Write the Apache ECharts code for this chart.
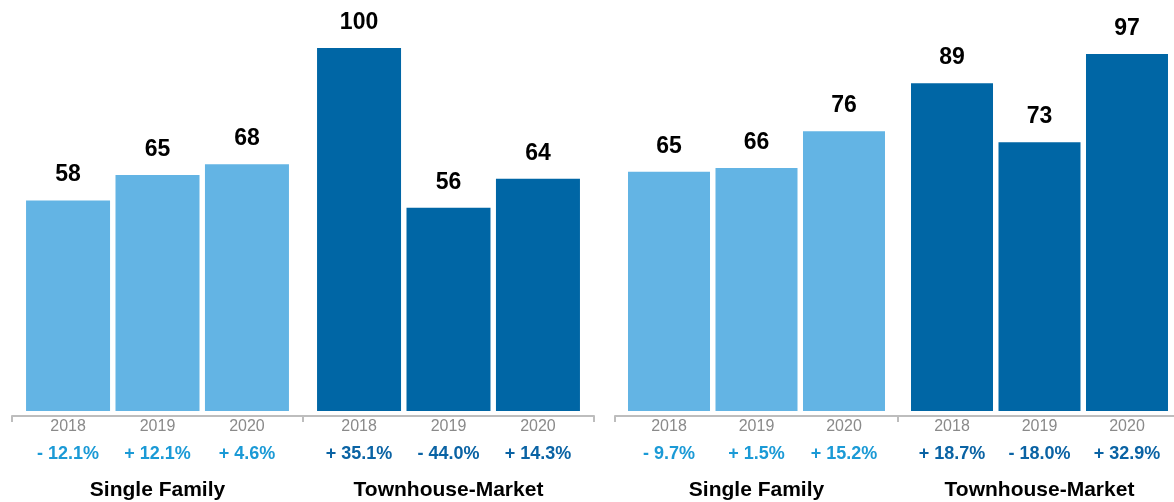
<!DOCTYPE html>
<html>
<head>
<meta charset="utf-8">
<script src="https://cdn.jsdelivr.net/npm/echarts@6/dist/echarts.min.js"></script>
<style>
  html, body { margin: 0; padding: 0; background: #fff; }
  #main { width: 1174px; height: 502px; }
</style>
</head>
<body>
<div id="main"></div>
<script>
// data
var groups = ['Single Family', 'Townhouse-Market']
var years = ['2018', '2019', '2020']

var leftSingle = [58, 65, 68]
var leftTown = [100, 56, 64]
var rightSingle = [65, 66, 76]
var rightTown = [89, 73, 97]

var leftSinglePct = ['- 12.1%', '+ 12.1%', '+ 4.6%']
var leftTownPct = ['+ 35.1%', '- 44.0%', '+ 14.3%']
var rightSinglePct = ['- 9.7%', '+ 1.5%', '+ 15.2%']
var rightTownPct = ['+ 18.7%', '- 18.0%', '+ 32.9%']

var lightBlue = '#63b4e4'
var darkBlue = '#0066a5'
var font = 'Liberation Sans, Arial, Helvetica, sans-serif'

function xAxes (gridIndex) {
  return [
    {
      type: 'category',
      gridIndex: gridIndex,
      data: groups,
      offset: 5,
      axisLine: { show: true, onZero: false, lineStyle: { color: '#bdbdbd', width: 2 } },
      axisTick: { show: true, alignWithLabel: false, length: 6, lineStyle: { color: '#bdbdbd', width: 2 } },
      axisLabel: {
        margin: 64,
        color: '#000',
        fontFamily: font,
        fontWeight: 'bold',
        fontSize: 21
      }
    },
    {
      type: 'category',
      gridIndex: gridIndex,
      data: groups,
      show: false
    }
  ]
}

function panelSeries (axisBase, single, town, singlePct, townPct, barWidth, barGap) {
  var list = []
  years.forEach(function (year, i) {
    list.push({
      name: year,
      type: 'bar',
      xAxisIndex: axisBase,
      yAxisIndex: axisBase / 2,
      barWidth: barWidth,
      barGap: barGap,
      data: [
        { value: single[i], itemStyle: { color: lightBlue } },
        { value: town[i], itemStyle: { color: darkBlue } }
      ],
      label: {
        show: true,
        position: 'top',
        distance: 14,
        color: '#000',
        fontFamily: font,
        fontWeight: 'bold',
        fontSize: 23
      }
    })
  })
  // transparent copies carry the year / change labels under the axis
  years.forEach(function (year, i) {
    list.push({
      name: year + ' change',
      type: 'bar',
      xAxisIndex: axisBase + 1,
      yAxisIndex: axisBase / 2,
      barWidth: barWidth,
      barGap: barGap,
      silent: true,
      itemStyle: { color: 'rgba(0,0,0,0)' },
      data: [single[i], town[i]],
      label: {
        show: true,
        position: 'bottom',
        distance: 5,
        fontFamily: font,
        formatter: function (p) {
          var pct = p.dataIndex === 0 ? singlePct[i] : townPct[i]
          var style = p.dataIndex === 0 ? 'pl' : 'pd'
          return '{y|' + year + '}\n{' + style + '|' + pct + '}'
        },
        rich: {
          y: { fontSize: 16, color: '#8a8a8a', lineHeight: 22, fontFamily: font },
          pl: { fontSize: 18, fontWeight: 'bold', color: '#1b9ad6', lineHeight: 32, fontFamily: font },
          pd: { fontSize: 18, fontWeight: 'bold', color: '#0a63a4', lineHeight: 32, fontFamily: font }
        }
      }
    })
  })
  return list
}

var chart = echarts.init(document.getElementById('main'))
var option = {
  animation: false,
  grid: [
    { left: 12, width: 582, top: 48, bottom: 91, outerBoundsMode: 'none' },
    { left: 615, width: 566, top: 48, bottom: 91, outerBoundsMode: 'none' }
  ],
  xAxis: xAxes(0).concat(xAxes(1)),
  yAxis: [
    { type: 'value', gridIndex: 0, min: 0, max: 100, show: false },
    { type: 'value', gridIndex: 1, min: 0, max: 98.6, show: false }
  ],
  series: panelSeries(0, leftSingle, leftTown, leftSinglePct, leftTownPct, 84, '6.5%')
    .concat(panelSeries(2, rightSingle, rightTown, rightSinglePct, rightTownPct, 82, '6.7%'))
}
chart.setOption(option)
</script>
</body>
</html>
